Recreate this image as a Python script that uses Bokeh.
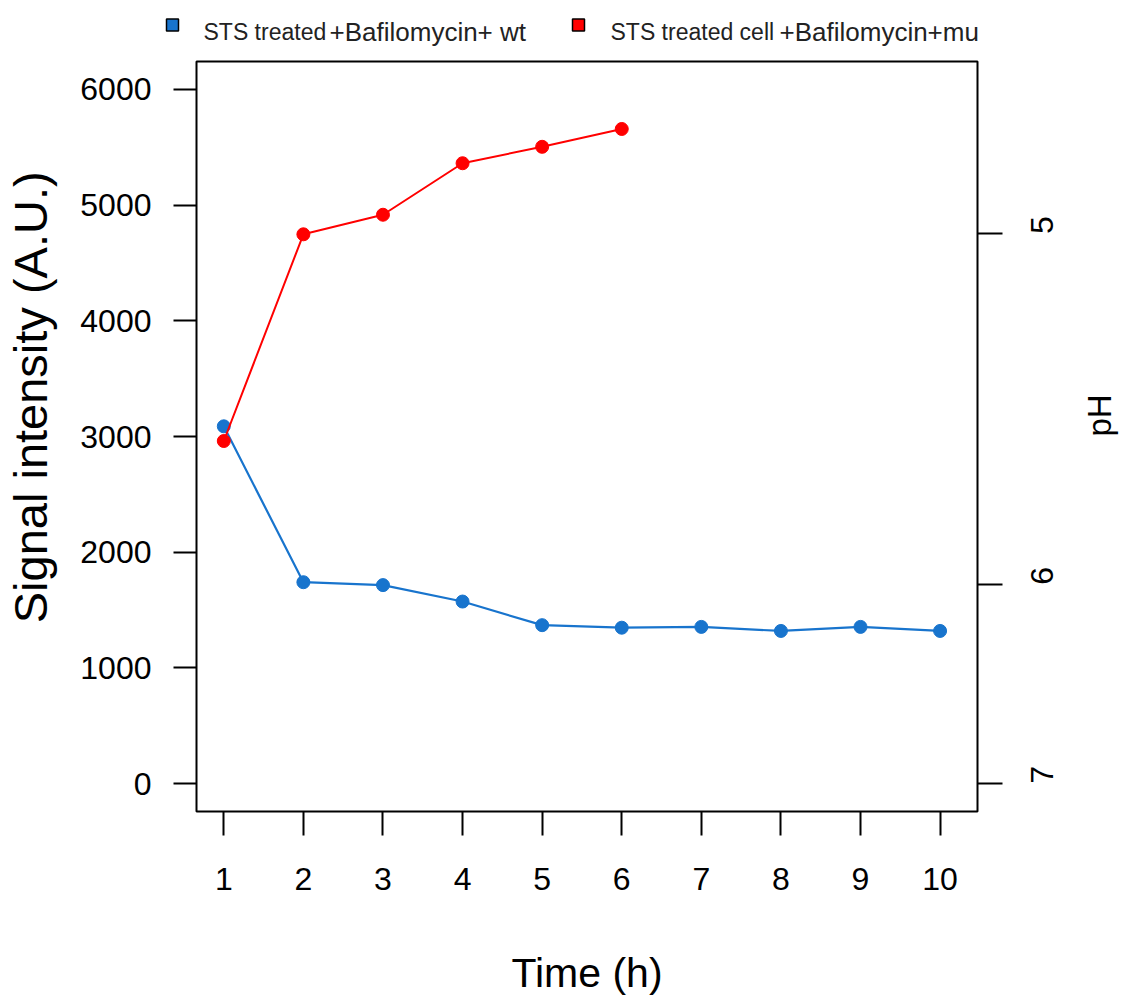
import math
from bokeh.plotting import figure
from bokeh.models import Range1d, LinearAxis, FixedTicker
from bokeh.core.properties import value
from bokeh.embed import file_html
from bokeh.resources import INLINE

# ---- data ----
time_h = [1, 2, 3, 4, 5, 6, 7, 8, 9, 10]
wt_signal = [3088, 1741, 1716, 1574, 1370, 1348, 1355, 1320, 1355, 1320]
mu_time = [1, 2, 3, 4, 5, 6]
mu_signal = [2961, 4747, 4916, 5361, 5503, 5657]

y_ticks = [0, 1000, 2000, 3000, 4000, 5000, 6000]
x_ticks = [1, 2, 3, 4, 5, 6, 7, 8, 9, 10]
ph_tick_pos = [0, 1720, 4750]
ph_tick_labels = ["7", "6", "5"]

wt_name_a = "STS treated"
wt_name_b = "+Bafilomycin+ wt"
mu_name_a = "STS treated cell"
mu_name_b = "+Bafilomycin+mu"

BLUE = "#1874CD"
RED = "#FF0000"
FONT = "Liberation Sans"

# ---- legend strip above the plot (coordinates = pixels) ----
LEG_H = 59
leg = figure(width=1140, height=LEG_H, x_range=Range1d(0, 1140), y_range=Range1d(LEG_H, 0),
             output_backend="svg", toolbar_location=None,
             min_border=0, outline_line_color=None)
leg.axis.visible = False
leg.grid.visible = False
leg.background_fill_color = "white"
leg.border_fill_color = "white"

def legend_entry(sq_left, color, x_a, txt_a, x_b, txt_b):
    leg.rect(x=[sq_left + 6], y=[24.5], width=12, height=12,
             fill_color=color, line_color="black", line_width=1.5)
    leg.text(x=[x_a], y=[31], text=[txt_a], text_font=value(FONT), text_font_size="23px",
             text_baseline="alphabetic", text_align="left", text_color="#222222")
    leg.text(x=[x_b], y=[31], text=[txt_b], text_font=value(FONT), text_font_size="26px",
             text_baseline="alphabetic", text_align="left", text_color="#222222")

legend_entry(166, BLUE, 203, wt_name_a, 329, wt_name_b)
legend_entry(572, RED, 610, mu_name_a, 779, mu_name_b)

# ---- main figure ----
p = figure(width=1140, height=999 - LEG_H,
           x_range=Range1d(0.657, 10.47), y_range=Range1d(-240, 6240),
           output_backend="svg", toolbar_location=None,
           min_border_left=196, min_border_right=163,
           min_border_top=2, min_border_bottom=188)
p.background_fill_color = "white"
p.border_fill_color = "white"
p.outline_line_color = "black"
p.outline_line_width = 2
p.xgrid.visible = False
p.ygrid.visible = False

# x axis
xa = p.xaxis[0]
xa.ticker = FixedTicker(ticks=x_ticks)
xa.axis_line_color = None
xa.major_tick_in = 0
xa.major_tick_out = 24
xa.major_tick_line_width = 2
xa.major_tick_line_color = "black"
xa.minor_tick_line_color = None
xa.major_label_standoff = 32
xa.major_label_text_font = FONT
xa.major_label_text_font_size = "32px"
xa.major_label_text_color = "black"
xa.axis_label = "Time (h)"
xa.axis_label_text_font = FONT
xa.axis_label_text_font_size = "41px"
xa.axis_label_text_font_style = "normal"
xa.axis_label_text_color = "black"
xa.axis_label_standoff = 57

# left y axis
ya = p.yaxis[0]
ya.ticker = FixedTicker(ticks=y_ticks)
ya.axis_line_color = None
ya.major_tick_in = 0
ya.major_tick_out = 23
ya.major_tick_line_width = 2
ya.major_tick_line_color = "black"
ya.minor_tick_line_color = None
ya.major_label_standoff = 22
ya.major_label_text_font = FONT
ya.major_label_text_font_size = "32px"
ya.major_label_text_color = "black"
ya.axis_label = "\u00a0" * 6 + "Signal intensity (A.U.)"
ya.axis_label_text_font = FONT
ya.axis_label_text_font_size = "47px"
ya.axis_label_text_font_style = "normal"
ya.axis_label_text_color = "black"
ya.axis_label_standoff = 20

# right pH axis
ra = LinearAxis(ticker=FixedTicker(ticks=ph_tick_pos),
                major_label_overrides={pos: lab for pos, lab in zip(ph_tick_pos, ph_tick_labels)})
ra.axis_line_color = None
ra.major_tick_in = 0
ra.major_tick_out = 25
ra.major_tick_line_width = 2
ra.major_tick_line_color = "black"
ra.minor_tick_line_color = None
ra.major_label_standoff = 40
ra.major_label_orientation = math.pi / 2
ra.major_label_text_font = FONT
ra.major_label_text_font_size = "32px"
ra.major_label_text_color = "black"
ra.axis_label = "pH"
ra.axis_label_text_font = FONT
ra.axis_label_text_font_size = "33px"
ra.axis_label_text_font_style = "normal"
ra.axis_label_text_color = "black"
ra.axis_label_standoff = 32
if "axis_label_orientation" in LinearAxis.properties():
    ra.axis_label_orientation = math.pi / 2
p.add_layout(ra, "right")

# ---- series ----
p.line(time_h, wt_signal, line_color=BLUE, line_width=2.2)
p.scatter(time_h, wt_signal, size=13, fill_color=BLUE, line_color=BLUE)
p.line(mu_time, mu_signal, line_color=RED, line_width=2)
p.scatter(mu_time, mu_signal, size=13, fill_color=RED, line_color=RED)

open("out.html", "w").write(file_html([leg, p], INLINE))
